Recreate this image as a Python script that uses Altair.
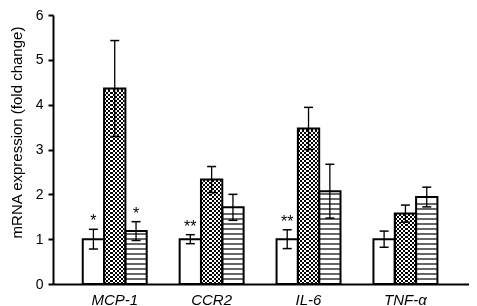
import altair as alt
import pandas as pd
import numpy as np

genes = ["MCP-1", "CCR2", "IL-6", "TNF-α"]
groups = ["Control", "Group B", "Group C"]

control_mean = [1.0, 1.0, 1.0, 1.0]
control_err = [0.22, 0.10, 0.21, 0.18]
control_sig = ["*", "**", "**", ""]

groupb_mean = [4.36, 2.33, 3.47, 1.57]
groupb_err = [1.07, 0.29, 0.47, 0.19]
groupb_sig = ["", "", "", ""]

groupc_mean = [1.18, 1.71, 2.07, 1.94]
groupc_err = [0.21, 0.29, 0.60, 0.22]
groupc_sig = ["*", "", "", ""]

y_ticks = [0, 1, 2, 3, 4, 5, 6]

rows = []
for g, means, errs, sigs in [
    (groups[0], control_mean, control_err, control_sig),
    (groups[1], groupb_mean, groupb_err, groupb_sig),
    (groups[2], groupc_mean, groupc_err, groupc_sig),
]:
    for gene, m, e, s in zip(genes, means, errs, sigs):
        rows.append({"gene": gene, "group": g, "mean": m, "lo": m - e, "hi": m + e, "sig": s})
df = pd.DataFrame(rows)

W, H = 416, 269
YMAX = 6
px_per_unit = H / YMAX

# pattern helper tables derived from the bar values
checker_rows = []
stripe_rows = []
for _, r in df.iterrows():
    top_px = r["mean"] * px_per_unit
    if r["group"] == groups[1]:
        k = 0
        while 4 * k + 3 < top_px - 1:
            checker_rows.append({"gene": r["gene"], "group": r["group"], "y": (4 * k + 3) / px_per_unit})
            k += 1
    if r["group"] == groups[2]:
        k = 1
        while 5 * k < top_px - 2:
            stripe_rows.append({"gene": r["gene"], "group": r["group"], "y": 5 * k / px_per_unit})
            k += 1
checker_df = pd.DataFrame(checker_rows)
stripe_df = pd.DataFrame(stripe_rows)

xscale = alt.Scale(domain=genes, paddingInner=0.34, paddingOuter=0.3165, align=0.485)
xoff = alt.Scale(domain=groups, paddingInner=0, paddingOuter=0)
yscale = alt.Scale(domain=[0, YMAX], nice=False)

x_enc = alt.X("gene:N", scale=xscale, title=None, sort=genes,
              axis=alt.Axis(labelAngle=0, ticks=False, domainWidth=2, domainColor="black",
                            labelFont="Liberation Sans", labelFontStyle="italic",
                            labelFontSize=15, labelColor="black", labelPadding=8))
xo_enc = alt.XOffset("group:N", scale=xoff, sort=groups)
y_axis = alt.Axis(values=y_ticks, grid=False, domainWidth=2, domainColor="black",
                  tickWidth=2, tickSize=5, tickColor="black", labelFontSize=14,
                  labelFont="Liberation Sans", labelColor="black", labelPadding=5,
                  title="mRNA expression (fold change)", titleFont="Liberation Sans",
                  titleFontSize=15, titleFontWeight="normal", titleColor="black",
                  titleX=-32, titleY=117, titleBaseline="alphabetic", titleAlign="center",
                  titleAngle=270)

base = alt.Chart(df)

stops = []
n_cells = 10
for k in range(n_cells):
    c = "black" if k % 2 == 0 else "white"
    stops.append(alt.GradientStop(color=c, offset=k / n_cells))
    stops.append(alt.GradientStop(color=c, offset=(k + 1) / n_cells))
checker_fill = alt.LinearGradient(gradient="linear", stops=stops, x1=0, x2=1, y1=0, y2=0)

white_bars = base.transform_filter(alt.FieldOneOfPredicate(field="group", oneOf=[groups[0], groups[2]])).mark_bar(
    fill="white", strokeWidth=0).encode(
    x=x_enc, xOffset=xo_enc, y=alt.Y("mean:Q", scale=yscale, axis=y_axis))
dot_bars = base.transform_filter(alt.datum.group == groups[1]).mark_bar(
    fill=checker_fill, strokeWidth=0).encode(
    x=x_enc, xOffset=xo_enc, y=alt.Y("mean:Q", scale=yscale))

checker = alt.Chart(checker_df).mark_tick(
    color="white", size=19.5, thickness=2, opacity=1, blend="difference").encode(
    x=x_enc, xOffset=xo_enc, y=alt.Y("y:Q", scale=yscale))
stripes = alt.Chart(stripe_df).mark_tick(
    color="black", size=20, thickness=1.2, opacity=1).encode(
    x=x_enc, xOffset=xo_enc, y=alt.Y("y:Q", scale=yscale))

outline = base.mark_bar(fill=None, fillOpacity=0, stroke="black", strokeWidth=2).encode(
    x=x_enc, xOffset=xo_enc, y=alt.Y("mean:Q", scale=yscale))

err = base.mark_rule(color="black", strokeWidth=1.3).encode(
    x=x_enc, xOffset=xo_enc, y=alt.Y("lo:Q", scale=yscale), y2="hi:Q")
cap_hi = base.mark_tick(color="black", size=9, thickness=1.5, opacity=1).encode(
    x=x_enc, xOffset=xo_enc, y=alt.Y("hi:Q", scale=yscale))
cap_lo = base.mark_tick(color="black", size=9, thickness=1.5, opacity=1).encode(
    x=x_enc, xOffset=xo_enc, y=alt.Y("lo:Q", scale=yscale))

sig = base.mark_text(font="Liberation Sans", fontSize=16, color="black",
                     baseline="alphabetic", dy=-3).encode(
    x=x_enc, xOffset=xo_enc, y=alt.Y("hi:Q", scale=yscale), text="sig:N")

chart = alt.layer(white_bars, dot_bars, checker, stripes, outline, err, cap_hi, cap_lo, sig).properties(
    width=W, height=H,
    autosize=alt.AutoSizeParams(type="none"),
    padding={"left": 45, "top": 7, "right": 0, "bottom": 22},
).configure_view(stroke=None)

chart.save("out.html", embed_options={"renderer": "svg", "actions": False})
